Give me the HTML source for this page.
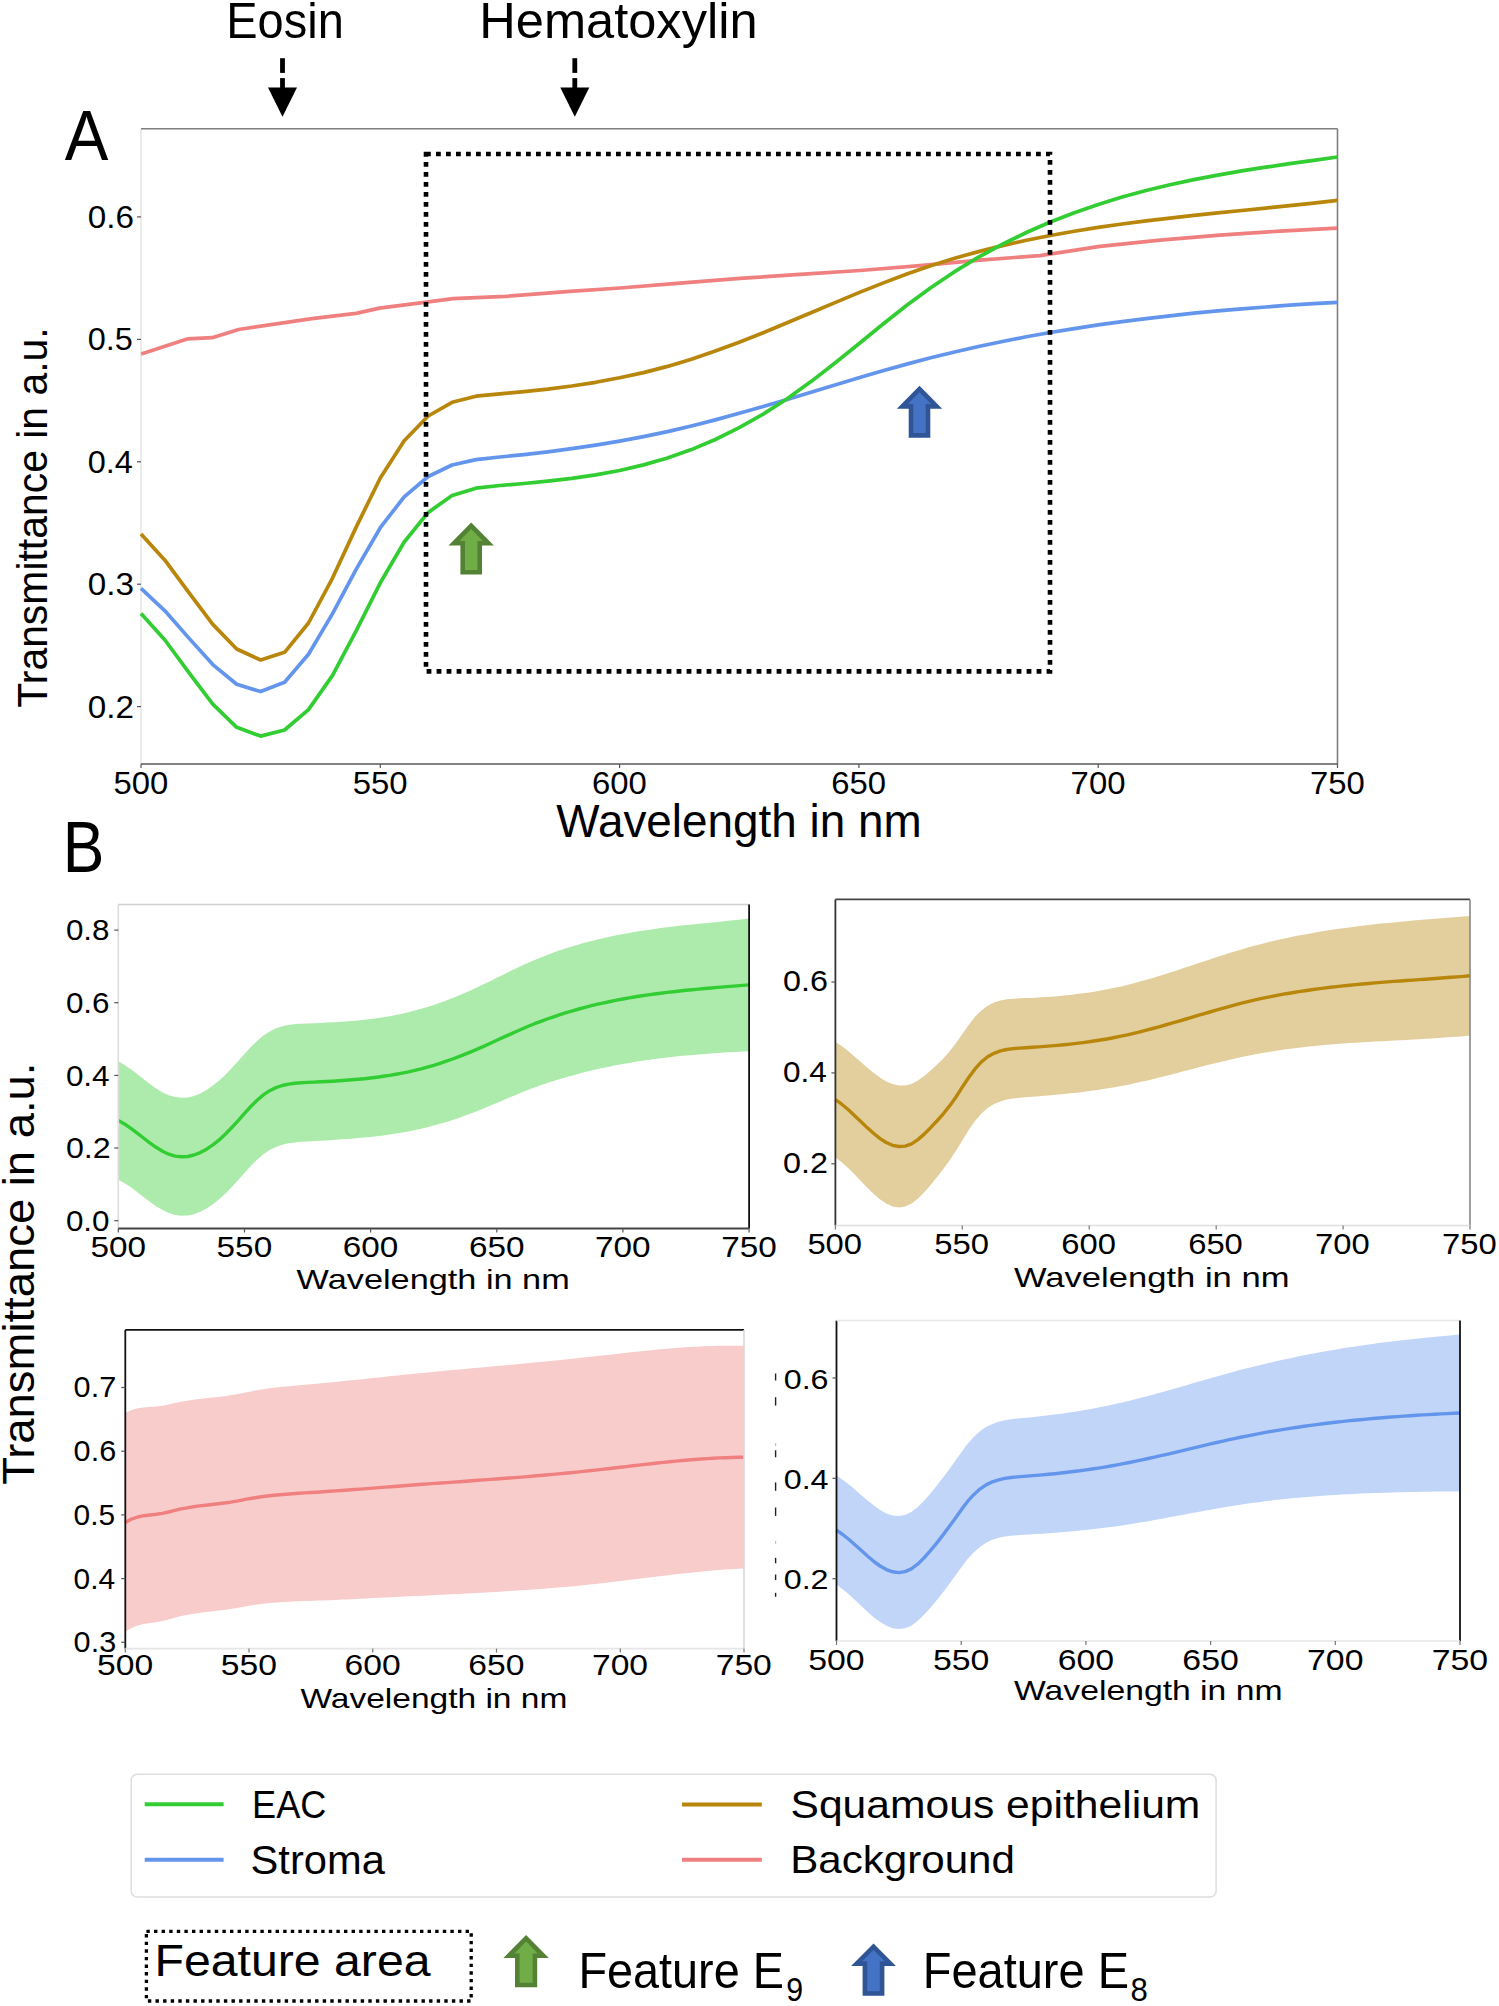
<!DOCTYPE html>
<html><head><meta charset="utf-8"><title>Transmittance spectra</title>
<style>html,body{margin:0;padding:0;background:#fff;} svg{display:block;}</style></head>
<body><svg width="1499" height="2006" viewBox="0 0 1499 2006" font-family='"Liberation Sans", sans-serif'>
<rect width="1499" height="2006" fill="#fff"/>
<text x="226.27" y="38.00" font-size="50.43" fill="#000" textLength="117.55" lengthAdjust="spacingAndGlyphs">Eosin</text>
<text x="479.29" y="38.00" font-size="49.28" fill="#000" textLength="278.25" lengthAdjust="spacingAndGlyphs">Hematoxylin</text>
<text x="64.70" y="160.30" font-size="71.01" fill="#000" textLength="43.63" lengthAdjust="spacingAndGlyphs">A</text>
<rect x="280.1" y="58.2" width="4.8" height="14.7" fill="#000"/>
<rect x="280.1" y="78.1" width="4.8" height="10" fill="#000"/>
<polygon points="268.0,87.6 297.0,87.6 282.5,116.8" fill="#000" />
<rect x="572.4" y="58.2" width="4.8" height="14.7" fill="#000"/>
<rect x="572.4" y="78.1" width="4.8" height="10" fill="#000"/>
<polygon points="560.3,87.6 589.3,87.6 574.8,116.8" fill="#000" />
<line x1="141.0" y1="128.7" x2="141.0" y2="764.0" stroke="#e6e6e6" stroke-width="1.6" />
<line x1="141.0" y1="128.7" x2="1337.5" y2="128.7" stroke="#7f7f7f" stroke-width="1.6" />
<line x1="1337.5" y1="128.7" x2="1337.5" y2="764.0" stroke="#7f7f7f" stroke-width="1.6" />
<line x1="141.0" y1="764.0" x2="1337.5" y2="764.0" stroke="#595959" stroke-width="1.6" />
<line x1="137.0" y1="216.9" x2="141.0" y2="216.9" stroke="#555" stroke-width="1.2" />
<text x="87.75" y="227.88" font-size="31.69" fill="#000" textLength="46.16" lengthAdjust="spacingAndGlyphs">0.6</text>
<line x1="137.0" y1="339.4" x2="141.0" y2="339.4" stroke="#555" stroke-width="1.2" />
<text x="87.78" y="350.38" font-size="31.69" fill="#000" textLength="45.09" lengthAdjust="spacingAndGlyphs">0.5</text>
<line x1="137.0" y1="461.8" x2="141.0" y2="461.8" stroke="#555" stroke-width="1.2" />
<text x="87.78" y="472.78" font-size="31.69" fill="#000" textLength="45.09" lengthAdjust="spacingAndGlyphs">0.4</text>
<line x1="137.0" y1="584.2" x2="141.0" y2="584.2" stroke="#555" stroke-width="1.2" />
<text x="87.75" y="595.18" font-size="31.69" fill="#000" textLength="46.16" lengthAdjust="spacingAndGlyphs">0.3</text>
<line x1="137.0" y1="706.6" x2="141.0" y2="706.6" stroke="#555" stroke-width="1.2" />
<text x="87.75" y="717.58" font-size="31.69" fill="#000" textLength="46.16" lengthAdjust="spacingAndGlyphs">0.2</text>
<line x1="141.0" y1="764.0" x2="141.0" y2="768.0" stroke="#555" stroke-width="1.2" />
<text x="113.44" y="793.69" font-size="30.99" fill="#000" textLength="54.81" lengthAdjust="spacingAndGlyphs">500</text>
<line x1="380.3" y1="764.0" x2="380.3" y2="768.0" stroke="#555" stroke-width="1.2" />
<text x="352.74" y="793.69" font-size="30.99" fill="#000" textLength="54.81" lengthAdjust="spacingAndGlyphs">550</text>
<line x1="619.6" y1="764.0" x2="619.6" y2="768.0" stroke="#555" stroke-width="1.2" />
<text x="592.04" y="793.69" font-size="30.99" fill="#000" textLength="54.81" lengthAdjust="spacingAndGlyphs">600</text>
<line x1="858.9" y1="764.0" x2="858.9" y2="768.0" stroke="#555" stroke-width="1.2" />
<text x="831.34" y="793.69" font-size="30.99" fill="#000" textLength="54.81" lengthAdjust="spacingAndGlyphs">650</text>
<line x1="1098.2" y1="764.0" x2="1098.2" y2="768.0" stroke="#555" stroke-width="1.2" />
<text x="1070.64" y="793.69" font-size="30.99" fill="#000" textLength="54.81" lengthAdjust="spacingAndGlyphs">700</text>
<line x1="1337.5" y1="764.0" x2="1337.5" y2="768.0" stroke="#555" stroke-width="1.2" />
<text x="1309.94" y="793.69" font-size="30.99" fill="#000" textLength="54.81" lengthAdjust="spacingAndGlyphs">750</text>
<text x="556.30" y="836.80" font-size="46.09" fill="#000" textLength="365.40" lengthAdjust="spacingAndGlyphs">Wavelength in nm</text>
<text transform="translate(47.40,707.70) rotate(-90)" x="-0.00" y="0" font-size="41.59" fill="#000" textLength="380.36" lengthAdjust="spacingAndGlyphs">Transmittance in a.u.</text>
<polyline points="141.0,588.3 164.9,610.8 188.9,638.1 212.8,664.6 236.7,684.3 260.6,691.6 284.6,682.3 308.5,654.3 332.4,613.9 356.4,568.9 380.3,527.7 404.2,496.8 428.2,476.5 452.1,465.0 476.0,459.6 499.9,457.0 523.9,454.6 547.8,451.8 571.7,448.7 595.7,445.1 619.6,441.1 643.5,436.6 667.5,431.6 691.4,426.0 715.3,419.9 739.2,413.3 763.2,406.5 787.1,399.4 811.0,392.2 835.0,384.9 858.9,377.8 882.8,370.8 906.8,364.1 930.7,357.8 954.6,352.0 978.5,346.5 1002.5,341.5 1026.4,336.8 1050.3,332.5 1074.3,328.6 1098.2,324.9 1122.1,321.6 1146.1,318.6 1170.0,315.8 1193.9,313.2 1217.8,310.9 1241.8,308.9 1265.7,307.0 1289.6,305.2 1313.6,303.7 1337.5,302.3" fill="none" stroke="#6495ED" stroke-width="3.7" stroke-linejoin="round" stroke-linecap="butt" />
<polyline points="141.2,353.9 187.2,338.9 212.2,337.7 238.6,329.5 312.0,318.7 356.0,313.4 379.5,308.1 426.4,302.2 452.9,298.7 505.7,296.4 570.0,291.4 620.0,288.0 680.0,283.2 740.0,278.4 800.0,274.4 860.0,270.5 920.0,265.7 980.0,260.1 1040.0,255.6 1100.0,246.3 1160.0,240.1 1220.0,235.1 1280.0,231.1 1337.0,228.1" fill="none" stroke="#F08080" stroke-width="3.7" stroke-linejoin="round" stroke-linecap="butt" />
<polyline points="141.0,533.9 164.9,560.2 188.9,592.6 212.8,624.4 236.7,649.0 260.6,660.0 284.6,652.3 308.5,623.0 332.4,578.3 356.4,526.6 380.3,478.0 404.2,440.8 428.2,416.0 452.1,402.3 476.0,396.2 499.9,393.8 523.9,391.6 547.8,389.1 571.7,386.0 595.7,382.3 619.6,377.8 643.5,372.6 667.5,366.4 691.4,359.3 715.3,351.1 739.2,342.2 763.2,332.7 787.1,322.8 811.0,312.7 835.0,302.6 858.9,292.6 882.8,283.1 906.8,274.0 930.7,265.8 954.6,258.3 978.5,251.6 1002.5,245.6 1026.4,240.3 1050.3,235.5 1074.3,231.2 1098.2,227.4 1122.1,224.0 1146.1,220.9 1170.0,218.1 1193.9,215.4 1217.8,212.9 1241.8,210.5 1265.7,208.1 1289.6,205.6 1313.6,203.1 1337.5,200.3" fill="none" stroke="#B8860B" stroke-width="3.7" stroke-linejoin="round" stroke-linecap="butt" />
<polyline points="141.0,613.6 164.9,640.0 188.9,672.6 212.8,704.2 236.7,727.3 260.6,736.1 284.6,730.0 308.5,709.6 332.4,675.6 356.4,630.4 380.3,582.8 404.2,542.0 428.2,512.4 452.1,495.6 476.0,488.2 499.9,485.5 523.9,483.5 547.8,481.2 571.7,478.4 595.7,474.9 619.6,470.5 643.5,464.9 667.5,458.0 691.4,449.6 715.3,439.5 739.2,427.6 763.2,414.1 787.1,398.7 811.0,381.6 835.0,363.0 858.9,343.7 882.8,324.2 906.8,305.3 930.7,287.7 954.6,271.7 978.5,257.2 1002.5,244.2 1026.4,232.5 1050.3,222.0 1074.3,212.7 1098.2,204.4 1122.1,197.0 1146.1,190.5 1170.0,184.7 1193.9,179.6 1217.8,175.1 1241.8,170.9 1265.7,167.2 1289.6,163.7 1313.6,160.3 1337.5,157.0" fill="none" stroke="#32CD32" stroke-width="3.7" stroke-linejoin="round" stroke-linecap="butt" />
<rect x="426" y="154" width="624" height="517.4" fill="none" stroke="#000" stroke-width="4.6" stroke-dasharray="4.8 5.2"/>
<polygon points="471.2,522.5 493.9,545.5 482.0,545.5 482.0,574.5 460.4,574.5 460.4,545.5 448.5,545.5" fill="#548235" />
<polygon points="471.2,529.0 482.8,540.9 477.4,540.9 477.4,569.9 465.0,569.9 465.0,540.9 459.6,540.9" fill="#70AD47" />
<polygon points="919.5,385.7 942.2,408.7 930.3,408.7 930.3,437.7 908.7,437.7 908.7,408.7 896.8,408.7" fill="#2F5597" />
<polygon points="919.5,392.2 931.1,404.1 925.7,404.1 925.7,433.1 913.3,433.1 913.3,404.1 907.9,404.1" fill="#4472C4" />
<text x="62.64" y="872.40" font-size="71.59" fill="#000" textLength="41.63" lengthAdjust="spacingAndGlyphs">B</text>
<text transform="translate(34.40,1484.80) rotate(-90)" x="-0.00" y="0" font-size="44.93" fill="#000" textLength="422.24" lengthAdjust="spacingAndGlyphs">Transmittance in a.u.</text>
<polygon points="118.3,1061.2 124.6,1064.9 130.9,1069.3 137.2,1074.1 143.5,1079.1 149.8,1084.0 156.1,1088.5 162.5,1092.4 168.8,1095.3 175.1,1097.1 181.4,1097.8 187.7,1097.4 194.0,1095.9 200.3,1093.4 206.6,1089.9 212.9,1085.6 219.2,1080.5 225.5,1074.7 231.8,1068.1 238.2,1061.1 244.5,1054.0 250.8,1047.1 257.1,1040.9 263.4,1035.6 269.7,1031.4 276.0,1028.3 282.3,1026.2 288.6,1024.9 294.9,1024.1 301.2,1023.7 307.5,1023.4 313.8,1023.2 320.2,1022.9 326.5,1022.6 332.8,1022.3 339.1,1021.9 345.4,1021.5 351.7,1021.0 358.0,1020.5 364.3,1019.8 370.6,1019.1 376.9,1018.2 383.2,1017.3 389.5,1016.2 395.9,1015.0 402.2,1013.7 408.5,1012.2 414.8,1010.6 421.1,1008.8 427.4,1007.0 433.7,1005.0 440.0,1002.8 446.3,1000.5 452.6,998.1 458.9,995.5 465.2,992.8 471.5,990.0 477.9,987.1 484.2,984.0 490.5,980.9 496.8,977.8 503.1,974.7 509.4,971.6 515.7,968.6 522.0,965.6 528.3,962.7 534.6,960.0 540.9,957.4 547.2,954.9 553.6,952.6 559.9,950.3 566.2,948.2 572.5,946.2 578.8,944.4 585.1,942.6 591.4,940.9 597.7,939.4 604.0,937.9 610.3,936.5 616.6,935.3 622.9,934.0 629.2,932.9 635.6,931.8 641.9,930.8 648.2,929.9 654.5,929.0 660.8,928.1 667.1,927.3 673.4,926.6 679.7,925.8 686.0,925.1 692.3,924.5 698.6,923.8 704.9,923.2 711.3,922.5 717.6,921.9 723.9,921.2 730.2,920.6 736.5,919.9 742.8,919.3 749.1,918.6 749.1,1051.3 742.8,1051.6 736.5,1051.9 730.2,1052.2 723.9,1052.6 717.6,1053.0 711.3,1053.4 704.9,1053.9 698.6,1054.4 692.3,1054.9 686.0,1055.5 679.7,1056.1 673.4,1056.7 667.1,1057.5 660.8,1058.2 654.5,1059.0 648.2,1059.9 641.9,1060.8 635.6,1061.8 629.2,1062.9 622.9,1064.0 616.6,1065.1 610.3,1066.4 604.0,1067.7 597.7,1069.1 591.4,1070.5 585.1,1072.1 578.8,1073.7 572.5,1075.4 566.2,1077.2 559.9,1079.1 553.6,1081.0 547.2,1083.1 540.9,1085.2 534.6,1087.5 528.3,1089.8 522.0,1092.3 515.7,1094.9 509.4,1097.5 503.1,1100.2 496.8,1102.9 490.5,1105.5 484.2,1108.2 477.9,1110.7 471.5,1113.2 465.2,1115.6 458.9,1117.9 452.6,1120.0 446.3,1122.0 440.0,1123.8 433.7,1125.6 427.4,1127.2 421.1,1128.7 414.8,1130.1 408.5,1131.4 402.2,1132.5 395.9,1133.6 389.5,1134.5 383.2,1135.4 376.9,1136.2 370.6,1136.9 364.3,1137.5 358.0,1138.1 351.7,1138.7 345.4,1139.1 339.1,1139.6 332.8,1140.0 326.5,1140.4 320.2,1140.8 313.8,1141.1 307.5,1141.5 301.2,1141.8 294.9,1142.4 288.6,1143.3 282.3,1144.7 276.0,1146.9 269.7,1150.0 263.4,1154.3 257.1,1159.7 250.8,1166.0 244.5,1172.9 238.2,1180.0 231.8,1186.9 225.5,1193.4 219.2,1199.2 212.9,1204.2 206.6,1208.4 200.3,1211.8 194.0,1214.2 187.7,1215.5 181.4,1215.8 175.1,1215.0 168.8,1213.1 162.5,1210.1 156.1,1206.2 149.8,1201.7 143.5,1196.9 137.2,1192.0 130.9,1187.3 124.6,1183.2 118.3,1179.8" fill="#ADEBAD" />
<polyline points="118.3,1120.5 124.6,1124.0 130.9,1128.3 137.2,1133.1 143.5,1138.0 149.8,1142.8 156.1,1147.3 162.5,1151.2 168.8,1154.2 175.1,1156.1 181.4,1156.8 187.7,1156.5 194.0,1155.0 200.3,1152.6 206.6,1149.2 212.9,1144.9 219.2,1139.9 225.5,1134.0 231.8,1127.5 238.2,1120.6 244.5,1113.4 250.8,1106.5 257.1,1100.3 263.4,1094.9 269.7,1090.7 276.0,1087.6 282.3,1085.5 288.6,1084.1 294.9,1083.2 301.2,1082.8 307.5,1082.4 313.8,1082.1 320.2,1081.8 326.5,1081.5 332.8,1081.2 339.1,1080.8 345.4,1080.3 351.7,1079.8 358.0,1079.3 364.3,1078.7 370.6,1078.0 376.9,1077.2 383.2,1076.3 389.5,1075.4 395.9,1074.3 402.2,1073.1 408.5,1071.8 414.8,1070.3 421.1,1068.8 427.4,1067.1 433.7,1065.3 440.0,1063.3 446.3,1061.2 452.6,1059.0 458.9,1056.7 465.2,1054.2 471.5,1051.6 477.9,1048.9 484.2,1046.1 490.5,1043.2 496.8,1040.3 503.1,1037.4 509.4,1034.6 515.7,1031.7 522.0,1029.0 528.3,1026.3 534.6,1023.7 540.9,1021.3 547.2,1019.0 553.6,1016.8 559.9,1014.7 566.2,1012.7 572.5,1010.8 578.8,1009.0 585.1,1007.3 591.4,1005.7 597.7,1004.2 604.0,1002.8 610.3,1001.5 616.6,1000.2 622.9,999.0 629.2,997.9 635.6,996.8 641.9,995.8 648.2,994.9 654.5,994.0 660.8,993.2 667.1,992.4 673.4,991.7 679.7,991.0 686.0,990.3 692.3,989.7 698.6,989.1 704.9,988.5 711.3,988.0 717.6,987.4 723.9,986.9 730.2,986.4 736.5,985.9 742.8,985.4 749.1,984.9" fill="none" stroke="#32CD32" stroke-width="3.4" stroke-linejoin="round" stroke-linecap="butt" />
<line x1="118.3" y1="904.5" x2="118.3" y2="1228.5" stroke="#dcdcdc" stroke-width="1.6" />
<line x1="118.3" y1="904.5" x2="749.1" y2="904.5" stroke="#d0d0d0" stroke-width="1.6" />
<line x1="749.1" y1="904.5" x2="749.1" y2="1228.5" stroke="#111" stroke-width="1.8" />
<line x1="118.3" y1="1228.5" x2="749.1" y2="1228.5" stroke="#444" stroke-width="1.8" />
<line x1="114.3" y1="1220.7" x2="118.3" y2="1220.7" stroke="#555" stroke-width="1.2" />
<text x="65.90" y="1231.01" font-size="28.87" fill="#000" textLength="43.64" lengthAdjust="spacingAndGlyphs">0.0</text>
<line x1="114.3" y1="1148.0" x2="118.3" y2="1148.0" stroke="#555" stroke-width="1.2" />
<text x="65.90" y="1158.35" font-size="28.87" fill="#000" textLength="44.75" lengthAdjust="spacingAndGlyphs">0.2</text>
<line x1="114.3" y1="1075.4" x2="118.3" y2="1075.4" stroke="#555" stroke-width="1.2" />
<text x="65.90" y="1085.69" font-size="28.87" fill="#000" textLength="43.64" lengthAdjust="spacingAndGlyphs">0.4</text>
<line x1="114.3" y1="1002.7" x2="118.3" y2="1002.7" stroke="#555" stroke-width="1.2" />
<text x="65.90" y="1013.03" font-size="28.87" fill="#000" textLength="43.64" lengthAdjust="spacingAndGlyphs">0.6</text>
<line x1="114.3" y1="930.1" x2="118.3" y2="930.1" stroke="#555" stroke-width="1.2" />
<text x="65.90" y="940.37" font-size="28.87" fill="#000" textLength="43.64" lengthAdjust="spacingAndGlyphs">0.8</text>
<line x1="118.3" y1="1228.5" x2="118.3" y2="1232.5" stroke="#555" stroke-width="1.2" />
<text x="90.46" y="1257.11" font-size="29.30" fill="#000" textLength="55.55" lengthAdjust="spacingAndGlyphs">500</text>
<line x1="244.5" y1="1228.5" x2="244.5" y2="1232.5" stroke="#555" stroke-width="1.2" />
<text x="216.62" y="1257.11" font-size="29.30" fill="#000" textLength="55.55" lengthAdjust="spacingAndGlyphs">550</text>
<line x1="370.6" y1="1228.5" x2="370.6" y2="1232.5" stroke="#555" stroke-width="1.2" />
<text x="342.78" y="1257.11" font-size="29.30" fill="#000" textLength="55.55" lengthAdjust="spacingAndGlyphs">600</text>
<line x1="496.8" y1="1228.5" x2="496.8" y2="1232.5" stroke="#555" stroke-width="1.2" />
<text x="468.94" y="1257.11" font-size="29.30" fill="#000" textLength="55.55" lengthAdjust="spacingAndGlyphs">650</text>
<line x1="622.9" y1="1228.5" x2="622.9" y2="1232.5" stroke="#555" stroke-width="1.2" />
<text x="595.10" y="1257.11" font-size="29.30" fill="#000" textLength="55.55" lengthAdjust="spacingAndGlyphs">700</text>
<line x1="749.1" y1="1228.5" x2="749.1" y2="1232.5" stroke="#555" stroke-width="1.2" />
<text x="721.26" y="1257.11" font-size="29.30" fill="#000" textLength="55.55" lengthAdjust="spacingAndGlyphs">750</text>
<text x="296.60" y="1289.30" font-size="27.97" fill="#000" textLength="273.12" lengthAdjust="spacingAndGlyphs">Wavelength in nm</text>
<polygon points="835.4,1042.0 841.7,1046.1 848.1,1051.0 854.4,1056.4 860.8,1062.0 867.1,1067.6 873.5,1072.8 879.8,1077.5 886.2,1081.4 892.5,1084.1 898.9,1085.6 905.2,1085.6 911.6,1084.0 917.9,1080.6 924.2,1076.0 930.6,1070.6 936.9,1064.7 943.3,1058.4 949.6,1051.3 956.0,1043.1 962.3,1034.1 968.7,1024.9 975.0,1016.8 981.4,1010.4 987.7,1005.7 994.0,1002.5 1000.4,1000.5 1006.7,999.3 1013.1,998.7 1019.4,998.3 1025.8,998.1 1032.1,997.9 1038.5,997.5 1044.8,997.1 1051.2,996.7 1057.5,996.2 1063.9,995.6 1070.2,994.9 1076.5,994.1 1082.9,993.3 1089.2,992.4 1095.6,991.4 1101.9,990.3 1108.3,989.1 1114.6,987.8 1121.0,986.4 1127.3,984.9 1133.7,983.3 1140.0,981.5 1146.4,979.8 1152.7,977.9 1159.0,976.0 1165.4,974.0 1171.7,972.0 1178.1,969.9 1184.4,967.8 1190.8,965.7 1197.1,963.6 1203.5,961.5 1209.8,959.4 1216.2,957.3 1222.5,955.3 1228.9,953.3 1235.2,951.3 1241.5,949.4 1247.9,947.6 1254.2,945.8 1260.6,944.2 1266.9,942.6 1273.3,941.0 1279.6,939.6 1286.0,938.2 1292.3,936.8 1298.7,935.6 1305.0,934.4 1311.3,933.2 1317.7,932.1 1324.0,931.1 1330.4,930.1 1336.7,929.1 1343.1,928.2 1349.4,927.4 1355.8,926.6 1362.1,925.8 1368.5,925.0 1374.8,924.3 1381.2,923.6 1387.5,923.0 1393.8,922.4 1400.2,921.8 1406.5,921.2 1412.9,920.6 1419.2,920.1 1425.6,919.6 1431.9,919.0 1438.3,918.5 1444.6,918.0 1451.0,917.5 1457.3,917.0 1463.7,916.6 1470.0,916.1 1470.0,1035.6 1463.7,1036.2 1457.3,1036.7 1451.0,1037.1 1444.6,1037.6 1438.3,1038.0 1431.9,1038.4 1425.6,1038.8 1419.2,1039.2 1412.9,1039.5 1406.5,1039.9 1400.2,1040.2 1393.8,1040.5 1387.5,1040.9 1381.2,1041.2 1374.8,1041.6 1368.5,1041.9 1362.1,1042.3 1355.8,1042.7 1349.4,1043.1 1343.1,1043.6 1336.7,1044.0 1330.4,1044.6 1324.0,1045.1 1317.7,1045.7 1311.3,1046.3 1305.0,1047.0 1298.7,1047.7 1292.3,1048.5 1286.0,1049.3 1279.6,1050.2 1273.3,1051.2 1266.9,1052.2 1260.6,1053.3 1254.2,1054.4 1247.9,1055.7 1241.5,1057.0 1235.2,1058.4 1228.9,1059.9 1222.5,1061.4 1216.2,1062.9 1209.8,1064.5 1203.5,1066.1 1197.1,1067.8 1190.8,1069.4 1184.4,1071.1 1178.1,1072.8 1171.7,1074.4 1165.4,1076.0 1159.0,1077.6 1152.7,1079.2 1146.4,1080.7 1140.0,1082.1 1133.7,1083.5 1127.3,1084.9 1121.0,1086.1 1114.6,1087.3 1108.3,1088.3 1101.9,1089.3 1095.6,1090.3 1089.2,1091.1 1082.9,1091.9 1076.5,1092.7 1070.2,1093.3 1063.9,1094.0 1057.5,1094.6 1051.2,1095.2 1044.8,1095.7 1038.5,1096.2 1032.1,1096.7 1025.8,1097.2 1019.4,1097.8 1013.1,1098.5 1006.7,1099.6 1000.4,1101.4 994.0,1104.0 987.7,1107.9 981.4,1113.5 975.0,1120.9 968.7,1130.1 962.3,1140.4 956.0,1150.8 949.6,1160.4 943.3,1169.1 936.9,1177.2 930.6,1184.9 924.2,1192.2 917.9,1198.7 911.6,1203.6 905.2,1206.6 898.9,1207.5 892.5,1206.4 886.2,1203.5 879.8,1199.2 873.5,1193.8 867.1,1187.6 860.8,1181.0 854.4,1174.3 848.1,1168.0 841.7,1162.2 835.4,1157.4" fill="#E3CF9D" />
<polyline points="835.4,1099.7 841.7,1104.2 848.1,1109.5 854.4,1115.4 860.8,1121.5 867.1,1127.6 873.5,1133.3 879.8,1138.4 886.2,1142.5 892.5,1145.3 898.9,1146.5 905.2,1146.1 911.6,1143.8 917.9,1139.6 924.2,1134.1 930.6,1127.7 936.9,1121.0 943.3,1113.8 949.6,1105.9 956.0,1097.0 962.3,1087.2 968.7,1077.5 975.0,1068.9 981.4,1061.9 987.7,1056.8 994.0,1053.3 1000.4,1050.9 1006.7,1049.5 1013.1,1048.6 1019.4,1048.1 1025.8,1047.7 1032.1,1047.3 1038.5,1046.9 1044.8,1046.4 1051.2,1045.9 1057.5,1045.4 1063.9,1044.8 1070.2,1044.1 1076.5,1043.4 1082.9,1042.6 1089.2,1041.8 1095.6,1040.8 1101.9,1039.8 1108.3,1038.7 1114.6,1037.5 1121.0,1036.2 1127.3,1034.9 1133.7,1033.4 1140.0,1031.8 1146.4,1030.2 1152.7,1028.5 1159.0,1026.8 1165.4,1025.0 1171.7,1023.2 1178.1,1021.3 1184.4,1019.5 1190.8,1017.6 1197.1,1015.7 1203.5,1013.8 1209.8,1012.0 1216.2,1010.1 1222.5,1008.3 1228.9,1006.6 1235.2,1004.9 1241.5,1003.2 1247.9,1001.6 1254.2,1000.1 1260.6,998.7 1266.9,997.4 1273.3,996.1 1279.6,994.9 1286.0,993.7 1292.3,992.7 1298.7,991.6 1305.0,990.7 1311.3,989.8 1317.7,988.9 1324.0,988.1 1330.4,987.3 1336.7,986.6 1343.1,985.9 1349.4,985.2 1355.8,984.6 1362.1,984.0 1368.5,983.5 1374.8,982.9 1381.2,982.4 1387.5,981.9 1393.8,981.4 1400.2,981.0 1406.5,980.5 1412.9,980.1 1419.2,979.6 1425.6,979.2 1431.9,978.7 1438.3,978.3 1444.6,977.8 1451.0,977.3 1457.3,976.9 1463.7,976.4 1470.0,975.8" fill="none" stroke="#B8860B" stroke-width="3.4" stroke-linejoin="round" stroke-linecap="butt" />
<line x1="835.4" y1="899.4" x2="835.4" y2="1225.5" stroke="#333" stroke-width="1.8" />
<line x1="835.4" y1="899.4" x2="1470.0" y2="899.4" stroke="#444" stroke-width="1.8" />
<line x1="1470.0" y1="899.4" x2="1470.0" y2="1225.5" stroke="#888" stroke-width="1.6" />
<line x1="835.4" y1="1225.5" x2="1470.0" y2="1225.5" stroke="#e0e0e0" stroke-width="1.6" />
<line x1="831.4" y1="1163.8" x2="835.4" y2="1163.8" stroke="#555" stroke-width="1.2" />
<text x="783.10" y="1173.11" font-size="29.30" fill="#000" textLength="44.91" lengthAdjust="spacingAndGlyphs">0.2</text>
<line x1="831.4" y1="1072.9" x2="835.4" y2="1072.9" stroke="#555" stroke-width="1.2" />
<text x="783.10" y="1082.21" font-size="29.30" fill="#000" textLength="43.81" lengthAdjust="spacingAndGlyphs">0.4</text>
<line x1="831.4" y1="982.0" x2="835.4" y2="982.0" stroke="#555" stroke-width="1.2" />
<text x="783.10" y="991.31" font-size="29.30" fill="#000" textLength="44.91" lengthAdjust="spacingAndGlyphs">0.6</text>
<line x1="835.4" y1="1225.5" x2="835.4" y2="1229.5" stroke="#777" stroke-width="1.2" />
<text x="807.40" y="1254.10" font-size="29.86" fill="#000" textLength="54.71" lengthAdjust="spacingAndGlyphs">500</text>
<line x1="962.3" y1="1225.5" x2="962.3" y2="1229.5" stroke="#777" stroke-width="1.2" />
<text x="934.32" y="1254.10" font-size="29.86" fill="#000" textLength="54.71" lengthAdjust="spacingAndGlyphs">550</text>
<line x1="1089.2" y1="1225.5" x2="1089.2" y2="1229.5" stroke="#777" stroke-width="1.2" />
<text x="1061.24" y="1254.10" font-size="29.86" fill="#000" textLength="54.71" lengthAdjust="spacingAndGlyphs">600</text>
<line x1="1216.2" y1="1225.5" x2="1216.2" y2="1229.5" stroke="#777" stroke-width="1.2" />
<text x="1188.16" y="1254.10" font-size="29.86" fill="#000" textLength="54.71" lengthAdjust="spacingAndGlyphs">650</text>
<line x1="1343.1" y1="1225.5" x2="1343.1" y2="1229.5" stroke="#777" stroke-width="1.2" />
<text x="1315.08" y="1254.10" font-size="29.86" fill="#000" textLength="54.71" lengthAdjust="spacingAndGlyphs">700</text>
<line x1="1470.0" y1="1225.5" x2="1470.0" y2="1229.5" stroke="#777" stroke-width="1.2" />
<text x="1442.00" y="1254.10" font-size="29.86" fill="#000" textLength="54.71" lengthAdjust="spacingAndGlyphs">750</text>
<text x="1014.00" y="1286.80" font-size="27.83" fill="#000" textLength="275.47" lengthAdjust="spacingAndGlyphs">Wavelength in nm</text>
<polygon points="125.3,1413.1 131.5,1410.1 137.7,1408.3 143.9,1407.4 150.0,1406.8 156.2,1406.4 162.4,1405.7 168.6,1404.5 174.8,1403.0 181.0,1401.7 187.2,1400.7 193.4,1399.8 199.5,1399.0 205.7,1398.3 211.9,1397.6 218.1,1396.9 224.3,1396.2 230.5,1395.3 236.7,1394.2 242.9,1393.0 249.0,1391.7 255.2,1390.5 261.4,1389.5 267.6,1388.6 273.8,1387.8 280.0,1387.1 286.2,1386.5 292.3,1385.9 298.5,1385.3 304.7,1384.8 310.9,1384.2 317.1,1383.7 323.3,1383.1 329.5,1382.5 335.7,1381.9 341.8,1381.3 348.0,1380.6 354.2,1380.0 360.4,1379.4 366.6,1378.7 372.8,1378.1 379.0,1377.4 385.2,1376.8 391.3,1376.1 397.5,1375.5 403.7,1374.8 409.9,1374.2 416.1,1373.6 422.3,1373.0 428.5,1372.4 434.7,1371.8 440.8,1371.2 447.0,1370.6 453.2,1370.1 459.4,1369.5 465.6,1368.9 471.8,1368.3 478.0,1367.8 484.1,1367.2 490.3,1366.6 496.5,1366.1 502.7,1365.5 508.9,1364.9 515.1,1364.4 521.3,1363.8 527.5,1363.2 533.6,1362.6 539.8,1362.0 546.0,1361.4 552.2,1360.8 558.4,1360.2 564.6,1359.6 570.8,1358.9 577.0,1358.3 583.1,1357.6 589.3,1357.0 595.5,1356.3 601.7,1355.6 607.9,1354.9 614.1,1354.2 620.3,1353.5 626.4,1352.8 632.6,1352.1 638.8,1351.5 645.0,1350.8 651.2,1350.2 657.4,1349.6 663.6,1349.0 669.8,1348.5 675.9,1348.0 682.1,1347.5 688.3,1347.1 694.5,1346.7 700.7,1346.4 706.9,1346.1 713.1,1345.9 719.3,1345.8 725.4,1345.7 731.6,1345.7 737.8,1345.8 744.0,1346.0 744.0,1568.6 737.8,1568.8 731.6,1569.2 725.4,1569.6 719.3,1570.1 713.1,1570.6 706.9,1571.1 700.7,1571.7 694.5,1572.3 688.3,1572.9 682.1,1573.6 675.9,1574.3 669.8,1575.0 663.6,1575.7 657.4,1576.5 651.2,1577.2 645.0,1578.0 638.8,1578.8 632.6,1579.5 626.4,1580.3 620.3,1581.1 614.1,1581.8 607.9,1582.5 601.7,1583.2 595.5,1583.9 589.3,1584.6 583.1,1585.2 577.0,1585.9 570.8,1586.4 564.6,1587.0 558.4,1587.5 552.2,1588.1 546.0,1588.6 539.8,1589.0 533.6,1589.5 527.5,1589.9 521.3,1590.3 515.1,1590.8 508.9,1591.1 502.7,1591.5 496.5,1591.9 490.3,1592.2 484.1,1592.6 478.0,1592.9 471.8,1593.2 465.6,1593.6 459.4,1593.9 453.2,1594.2 447.0,1594.5 440.8,1594.8 434.7,1595.1 428.5,1595.4 422.3,1595.7 416.1,1596.0 409.9,1596.3 403.7,1596.6 397.5,1596.9 391.3,1597.2 385.2,1597.5 379.0,1597.8 372.8,1598.1 366.6,1598.5 360.4,1598.8 354.2,1599.1 348.0,1599.4 341.8,1599.6 335.7,1599.9 329.5,1600.2 323.3,1600.4 317.1,1600.6 310.9,1600.9 304.7,1601.1 298.5,1601.3 292.3,1601.6 286.2,1601.9 280.0,1602.3 273.8,1602.7 267.6,1603.3 261.4,1604.0 255.2,1604.8 249.0,1605.8 242.9,1606.9 236.7,1608.0 230.5,1609.0 224.3,1609.9 218.1,1610.6 211.9,1611.4 205.7,1612.1 199.5,1612.9 193.4,1613.8 187.2,1614.9 181.0,1616.1 174.8,1617.7 168.6,1619.5 162.4,1621.0 156.2,1622.2 150.0,1623.1 143.9,1624.1 137.7,1625.6 131.5,1628.1 125.3,1631.8" fill="#F9CCCC" />
<polyline points="125.3,1522.5 131.5,1519.1 137.7,1517.0 143.9,1515.7 150.0,1515.0 156.2,1514.3 162.4,1513.4 168.6,1512.0 174.8,1510.4 181.0,1508.9 187.2,1507.8 193.4,1506.8 199.5,1505.9 205.7,1505.2 211.9,1504.5 218.1,1503.8 224.3,1503.0 230.5,1502.2 236.7,1501.1 242.9,1499.9 249.0,1498.7 255.2,1497.7 261.4,1496.7 267.6,1496.0 273.8,1495.3 280.0,1494.7 286.2,1494.2 292.3,1493.7 298.5,1493.3 304.7,1492.9 310.9,1492.5 317.1,1492.2 323.3,1491.8 329.5,1491.3 335.7,1490.9 341.8,1490.5 348.0,1490.0 354.2,1489.5 360.4,1489.1 366.6,1488.6 372.8,1488.1 379.0,1487.6 385.2,1487.1 391.3,1486.7 397.5,1486.2 403.7,1485.7 409.9,1485.2 416.1,1484.8 422.3,1484.3 428.5,1483.9 434.7,1483.4 440.8,1483.0 447.0,1482.6 453.2,1482.1 459.4,1481.7 465.6,1481.2 471.8,1480.8 478.0,1480.3 484.1,1479.9 490.3,1479.4 496.5,1479.0 502.7,1478.5 508.9,1478.0 515.1,1477.6 521.3,1477.1 527.5,1476.6 533.6,1476.0 539.8,1475.5 546.0,1475.0 552.2,1474.4 558.4,1473.9 564.6,1473.3 570.8,1472.7 577.0,1472.1 583.1,1471.4 589.3,1470.8 595.5,1470.1 601.7,1469.4 607.9,1468.7 614.1,1468.0 620.3,1467.3 626.4,1466.6 632.6,1465.8 638.8,1465.1 645.0,1464.4 651.2,1463.7 657.4,1463.0 663.6,1462.4 669.8,1461.7 675.9,1461.1 682.1,1460.5 688.3,1460.0 694.5,1459.5 700.7,1459.0 706.9,1458.6 713.1,1458.2 719.3,1457.9 725.4,1457.7 731.6,1457.5 737.8,1457.3 744.0,1457.3" fill="none" stroke="#F08080" stroke-width="3.4" stroke-linejoin="round" stroke-linecap="butt" />
<line x1="125.3" y1="1329.9" x2="125.3" y2="1648.6" stroke="#111" stroke-width="1.8" />
<line x1="125.3" y1="1329.9" x2="744.0" y2="1329.9" stroke="#111" stroke-width="1.8" />
<line x1="744.0" y1="1329.9" x2="744.0" y2="1648.6" stroke="#d8d8d8" stroke-width="1.6" />
<line x1="125.3" y1="1648.6" x2="744.0" y2="1648.6" stroke="#e6e6e6" stroke-width="1.6" />
<line x1="121.3" y1="1642.3" x2="125.3" y2="1642.3" stroke="#555" stroke-width="1.2" />
<text x="73.60" y="1652.21" font-size="28.73" fill="#000" textLength="42.60" lengthAdjust="spacingAndGlyphs">0.3</text>
<line x1="121.3" y1="1578.6" x2="125.3" y2="1578.6" stroke="#555" stroke-width="1.2" />
<text x="73.60" y="1588.51" font-size="28.73" fill="#000" textLength="41.54" lengthAdjust="spacingAndGlyphs">0.4</text>
<line x1="121.3" y1="1514.9" x2="125.3" y2="1514.9" stroke="#555" stroke-width="1.2" />
<text x="73.60" y="1524.81" font-size="28.73" fill="#000" textLength="41.54" lengthAdjust="spacingAndGlyphs">0.5</text>
<line x1="121.3" y1="1451.2" x2="125.3" y2="1451.2" stroke="#555" stroke-width="1.2" />
<text x="73.60" y="1461.11" font-size="28.73" fill="#000" textLength="42.60" lengthAdjust="spacingAndGlyphs">0.6</text>
<line x1="121.3" y1="1387.5" x2="125.3" y2="1387.5" stroke="#555" stroke-width="1.2" />
<text x="73.60" y="1397.41" font-size="28.73" fill="#000" textLength="42.60" lengthAdjust="spacingAndGlyphs">0.7</text>
<line x1="125.3" y1="1648.6" x2="125.3" y2="1652.6" stroke="#777" stroke-width="1.2" />
<text x="97.02" y="1674.90" font-size="29.72" fill="#000" textLength="56.10" lengthAdjust="spacingAndGlyphs">500</text>
<line x1="249.0" y1="1648.6" x2="249.0" y2="1652.6" stroke="#777" stroke-width="1.2" />
<text x="220.76" y="1674.90" font-size="29.72" fill="#000" textLength="56.10" lengthAdjust="spacingAndGlyphs">550</text>
<line x1="372.8" y1="1648.6" x2="372.8" y2="1652.6" stroke="#777" stroke-width="1.2" />
<text x="344.50" y="1674.90" font-size="29.72" fill="#000" textLength="56.10" lengthAdjust="spacingAndGlyphs">600</text>
<line x1="496.5" y1="1648.6" x2="496.5" y2="1652.6" stroke="#777" stroke-width="1.2" />
<text x="468.24" y="1674.90" font-size="29.72" fill="#000" textLength="56.10" lengthAdjust="spacingAndGlyphs">650</text>
<line x1="620.3" y1="1648.6" x2="620.3" y2="1652.6" stroke="#777" stroke-width="1.2" />
<text x="591.98" y="1674.90" font-size="29.72" fill="#000" textLength="56.10" lengthAdjust="spacingAndGlyphs">700</text>
<line x1="744.0" y1="1648.6" x2="744.0" y2="1652.6" stroke="#777" stroke-width="1.2" />
<text x="715.72" y="1674.90" font-size="29.72" fill="#000" textLength="56.10" lengthAdjust="spacingAndGlyphs">750</text>
<text x="300.40" y="1708.40" font-size="27.83" fill="#000" textLength="266.95" lengthAdjust="spacingAndGlyphs">Wavelength in nm</text>
<polygon points="836.5,1475.8 842.7,1479.8 849.0,1484.5 855.2,1489.7 861.4,1495.2 867.7,1500.6 873.9,1505.6 880.1,1510.0 886.4,1513.4 892.6,1515.4 898.9,1516.1 905.1,1515.0 911.3,1512.1 917.6,1507.3 923.8,1501.1 930.0,1494.0 936.3,1486.3 942.5,1478.3 948.7,1470.0 955.0,1461.2 961.2,1452.4 967.4,1444.1 973.7,1437.0 979.9,1431.3 986.1,1427.0 992.4,1423.9 998.6,1421.7 1004.8,1420.3 1011.1,1419.3 1017.3,1418.6 1023.5,1418.0 1029.8,1417.4 1036.0,1416.7 1042.3,1416.1 1048.5,1415.3 1054.7,1414.5 1061.0,1413.7 1067.2,1412.8 1073.4,1411.9 1079.7,1410.9 1085.9,1409.8 1092.1,1408.7 1098.4,1407.5 1104.6,1406.3 1110.8,1405.0 1117.1,1403.6 1123.3,1402.2 1129.5,1400.7 1135.8,1399.1 1142.0,1397.5 1148.2,1395.9 1154.5,1394.2 1160.7,1392.5 1167.0,1390.7 1173.2,1389.0 1179.4,1387.2 1185.7,1385.4 1191.9,1383.6 1198.1,1381.8 1204.4,1380.0 1210.6,1378.2 1216.8,1376.4 1223.1,1374.7 1229.3,1372.9 1235.5,1371.2 1241.8,1369.6 1248.0,1368.0 1254.2,1366.4 1260.5,1364.9 1266.7,1363.4 1273.0,1362.0 1279.2,1360.6 1285.4,1359.2 1291.7,1357.9 1297.9,1356.6 1304.1,1355.3 1310.4,1354.1 1316.6,1353.0 1322.8,1351.8 1329.1,1350.7 1335.3,1349.7 1341.5,1348.6 1347.8,1347.6 1354.0,1346.7 1360.2,1345.7 1366.5,1344.8 1372.7,1344.0 1378.9,1343.1 1385.2,1342.3 1391.4,1341.5 1397.7,1340.8 1403.9,1340.1 1410.1,1339.4 1416.4,1338.7 1422.6,1338.0 1428.8,1337.4 1435.1,1336.8 1441.3,1336.2 1447.5,1335.7 1453.8,1335.1 1460.0,1334.6 1460.0,1491.3 1453.8,1491.4 1447.5,1491.5 1441.3,1491.5 1435.1,1491.6 1428.8,1491.7 1422.6,1491.8 1416.4,1491.9 1410.1,1492.0 1403.9,1492.2 1397.7,1492.3 1391.4,1492.5 1385.2,1492.7 1378.9,1492.9 1372.7,1493.1 1366.5,1493.3 1360.2,1493.6 1354.0,1493.9 1347.8,1494.2 1341.5,1494.5 1335.3,1494.9 1329.1,1495.3 1322.8,1495.7 1316.6,1496.2 1310.4,1496.7 1304.1,1497.2 1297.9,1497.7 1291.7,1498.3 1285.4,1499.0 1279.2,1499.6 1273.0,1500.3 1266.7,1501.1 1260.5,1501.9 1254.2,1502.7 1248.0,1503.6 1241.8,1504.5 1235.5,1505.5 1229.3,1506.5 1223.1,1507.5 1216.8,1508.6 1210.6,1509.7 1204.4,1510.8 1198.1,1512.0 1191.9,1513.1 1185.7,1514.3 1179.4,1515.5 1173.2,1516.6 1167.0,1517.8 1160.7,1518.9 1154.5,1520.1 1148.2,1521.2 1142.0,1522.2 1135.8,1523.3 1129.5,1524.3 1123.3,1525.2 1117.1,1526.2 1110.8,1527.0 1104.6,1527.8 1098.4,1528.6 1092.1,1529.3 1085.9,1530.0 1079.7,1530.6 1073.4,1531.2 1067.2,1531.8 1061.0,1532.3 1054.7,1532.8 1048.5,1533.3 1042.3,1533.7 1036.0,1534.1 1029.8,1534.5 1023.5,1534.8 1017.3,1535.2 1011.1,1535.7 1004.8,1536.5 998.6,1537.8 992.4,1539.8 986.1,1542.7 979.9,1546.9 973.7,1552.4 967.4,1559.3 961.2,1567.5 955.0,1576.1 948.7,1584.7 942.5,1592.9 936.3,1600.8 930.0,1608.2 923.8,1615.1 917.6,1621.1 911.3,1625.7 905.1,1628.3 898.9,1629.1 892.6,1628.2 886.4,1625.8 880.1,1622.1 873.9,1617.4 867.7,1611.9 861.4,1606.1 855.2,1600.2 849.0,1594.4 842.7,1589.2 836.5,1584.6" fill="#C1D5F8" />
<polyline points="836.5,1530.2 842.7,1534.5 849.0,1539.5 855.2,1545.0 861.4,1550.6 867.7,1556.3 873.9,1561.5 880.1,1566.0 886.4,1569.6 892.6,1571.8 898.9,1572.6 905.1,1571.6 911.3,1568.9 917.6,1564.2 923.8,1558.1 930.0,1551.1 936.3,1543.6 942.5,1535.6 948.7,1527.3 955.0,1518.7 961.2,1509.9 967.4,1501.7 973.7,1494.7 979.9,1489.1 986.1,1484.9 992.4,1481.8 998.6,1479.8 1004.8,1478.4 1011.1,1477.5 1017.3,1476.9 1023.5,1476.4 1029.8,1475.9 1036.0,1475.4 1042.3,1474.9 1048.5,1474.3 1054.7,1473.7 1061.0,1473.0 1067.2,1472.3 1073.4,1471.5 1079.7,1470.8 1085.9,1469.9 1092.1,1469.0 1098.4,1468.1 1104.6,1467.1 1110.8,1466.0 1117.1,1464.9 1123.3,1463.7 1129.5,1462.5 1135.8,1461.2 1142.0,1459.9 1148.2,1458.5 1154.5,1457.1 1160.7,1455.7 1167.0,1454.3 1173.2,1452.8 1179.4,1451.3 1185.7,1449.8 1191.9,1448.4 1198.1,1446.9 1204.4,1445.4 1210.6,1443.9 1216.8,1442.5 1223.1,1441.1 1229.3,1439.7 1235.5,1438.4 1241.8,1437.0 1248.0,1435.8 1254.2,1434.6 1260.5,1433.4 1266.7,1432.2 1273.0,1431.1 1279.2,1430.1 1285.4,1429.1 1291.7,1428.1 1297.9,1427.2 1304.1,1426.3 1310.4,1425.4 1316.6,1424.6 1322.8,1423.8 1329.1,1423.0 1335.3,1422.3 1341.5,1421.6 1347.8,1420.9 1354.0,1420.3 1360.2,1419.7 1366.5,1419.1 1372.7,1418.5 1378.9,1418.0 1385.2,1417.5 1391.4,1417.0 1397.7,1416.6 1403.9,1416.1 1410.1,1415.7 1416.4,1415.3 1422.6,1414.9 1428.8,1414.6 1435.1,1414.2 1441.3,1413.9 1447.5,1413.6 1453.8,1413.3 1460.0,1413.0" fill="none" stroke="#6495ED" stroke-width="3.4" stroke-linejoin="round" stroke-linecap="butt" />
<line x1="836.5" y1="1320.5" x2="836.5" y2="1641.0" stroke="#111" stroke-width="1.8" />
<line x1="836.5" y1="1320.5" x2="1460.0" y2="1320.5" stroke="#e6e6e6" stroke-width="1.6" />
<line x1="1460.0" y1="1320.5" x2="1460.0" y2="1641.0" stroke="#111" stroke-width="1.8" />
<line x1="836.5" y1="1641.0" x2="1460.0" y2="1641.0" stroke="#e6e6e6" stroke-width="1.6" />
<line x1="832.5" y1="1578.7" x2="836.5" y2="1578.7" stroke="#555" stroke-width="1.2" />
<text x="783.70" y="1589.22" font-size="28.45" fill="#000" textLength="44.92" lengthAdjust="spacingAndGlyphs">0.2</text>
<line x1="832.5" y1="1478.3" x2="836.5" y2="1478.3" stroke="#555" stroke-width="1.2" />
<text x="783.70" y="1488.87" font-size="28.45" fill="#000" textLength="44.92" lengthAdjust="spacingAndGlyphs">0.4</text>
<line x1="832.5" y1="1378.0" x2="836.5" y2="1378.0" stroke="#555" stroke-width="1.2" />
<text x="783.70" y="1388.52" font-size="28.45" fill="#000" textLength="44.92" lengthAdjust="spacingAndGlyphs">0.6</text>
<line x1="836.5" y1="1641.0" x2="836.5" y2="1645.0" stroke="#777" stroke-width="1.2" />
<text x="808.25" y="1669.51" font-size="29.30" fill="#000" textLength="56.38" lengthAdjust="spacingAndGlyphs">500</text>
<line x1="961.2" y1="1641.0" x2="961.2" y2="1645.0" stroke="#777" stroke-width="1.2" />
<text x="932.95" y="1669.51" font-size="29.30" fill="#000" textLength="56.38" lengthAdjust="spacingAndGlyphs">550</text>
<line x1="1085.9" y1="1641.0" x2="1085.9" y2="1645.0" stroke="#777" stroke-width="1.2" />
<text x="1057.65" y="1669.51" font-size="29.30" fill="#000" textLength="56.38" lengthAdjust="spacingAndGlyphs">600</text>
<line x1="1210.6" y1="1641.0" x2="1210.6" y2="1645.0" stroke="#777" stroke-width="1.2" />
<text x="1182.35" y="1669.51" font-size="29.30" fill="#000" textLength="56.38" lengthAdjust="spacingAndGlyphs">650</text>
<line x1="1335.3" y1="1641.0" x2="1335.3" y2="1645.0" stroke="#777" stroke-width="1.2" />
<text x="1307.05" y="1669.51" font-size="29.30" fill="#000" textLength="56.38" lengthAdjust="spacingAndGlyphs">700</text>
<line x1="1460.0" y1="1641.0" x2="1460.0" y2="1645.0" stroke="#777" stroke-width="1.2" />
<text x="1431.75" y="1669.51" font-size="29.30" fill="#000" textLength="56.38" lengthAdjust="spacingAndGlyphs">750</text>
<text x="1014.00" y="1700.40" font-size="27.83" fill="#000" textLength="268.55" lengthAdjust="spacingAndGlyphs">Wavelength in nm</text>
<line x1="775.6" y1="1373.5" x2="775.6" y2="1380.5" stroke="#222" stroke-width="1.4" />
<line x1="775.6" y1="1397.2" x2="775.6" y2="1405.6" stroke="#222" stroke-width="1.4" />
<line x1="775.6" y1="1450.3" x2="775.6" y2="1457.3" stroke="#222" stroke-width="1.4" />
<line x1="775.6" y1="1482.4" x2="775.6" y2="1490.8" stroke="#222" stroke-width="1.4" />
<line x1="775.6" y1="1507.5" x2="775.6" y2="1515.9" stroke="#222" stroke-width="1.4" />
<line x1="775.6" y1="1557.8" x2="775.6" y2="1563.3" stroke="#222" stroke-width="1.4" />
<line x1="775.6" y1="1574.5" x2="775.6" y2="1580.1" stroke="#222" stroke-width="1.4" />
<line x1="775.6" y1="1592.8" x2="775.6" y2="1596.8" stroke="#222" stroke-width="1.4" />
<line x1="775.6" y1="1443.3" x2="775.6" y2="1446.1" stroke="#bbb" stroke-width="1.2" />
<line x1="775.6" y1="1541.0" x2="775.6" y2="1543.8" stroke="#bbb" stroke-width="1.2" />
<rect x="131.2" y="1774.3" width="1084.9" height="122.7" rx="6" ry="6" fill="#fff" stroke="#dedede" stroke-width="1.5"/>
<line x1="144.7" y1="1804.3" x2="223.6" y2="1804.3" stroke="#32CD32" stroke-width="4" />
<line x1="144.7" y1="1859.7" x2="223.6" y2="1859.7" stroke="#6495ED" stroke-width="4" />
<line x1="682.0" y1="1804.5" x2="761.8" y2="1804.5" stroke="#B8860B" stroke-width="4" />
<line x1="682.0" y1="1859.8" x2="761.8" y2="1859.8" stroke="#F08080" stroke-width="4" />
<text x="252.12" y="1817.70" font-size="38.41" fill="#000" textLength="74.31" lengthAdjust="spacingAndGlyphs">EAC</text>
<text x="250.56" y="1873.60" font-size="40.87" fill="#000" textLength="134.44" lengthAdjust="spacingAndGlyphs">Stroma</text>
<text x="790.48" y="1818.00" font-size="38.12" fill="#000" textLength="409.90" lengthAdjust="spacingAndGlyphs">Squamous epithelium</text>
<text x="790.25" y="1873.00" font-size="39.13" fill="#000" textLength="224.70" lengthAdjust="spacingAndGlyphs">Background</text>
<rect x="146.4" y="1931.3" width="324.8" height="69.7" fill="none" stroke="#000" stroke-width="3.3" stroke-dasharray="3.4 4.2"/>
<text x="154.50" y="1975.50" font-size="45.22" fill="#000" textLength="276.03" lengthAdjust="spacingAndGlyphs">Feature area</text>
<polygon points="526.1,1934.9 548.8,1958.0 537.2,1958.0 537.2,1987.3 515.0,1987.3 515.0,1958.0 503.4,1958.0" fill="#548235" />
<polygon points="526.1,1941.4 537.7,1953.4 532.6,1953.4 532.6,1982.7 519.6,1982.7 519.6,1953.4 514.5,1953.4" fill="#70AD47" />
<text x="578.41" y="1988.30" font-size="49.42" fill="#000" textLength="205.54" lengthAdjust="spacingAndGlyphs">Feature E</text>
<text x="786.28" y="2000.77" font-size="33.10" fill="#000" textLength="16.89" lengthAdjust="spacingAndGlyphs">9</text>
<polygon points="873.5,1943.5 895.9,1965.9 884.4,1965.9 884.4,1995.8 862.6,1995.8 862.6,1965.9 851.1,1965.9" fill="#2F5597" />
<polygon points="873.5,1950.0 884.8,1961.3 879.8,1961.3 879.8,1991.2 867.2,1991.2 867.2,1961.3 862.2,1961.3" fill="#4472C4" />
<text x="922.70" y="1988.30" font-size="49.42" fill="#000" textLength="206.36" lengthAdjust="spacingAndGlyphs">Feature E</text>
<text x="1130.46" y="2000.77" font-size="33.10" fill="#000" textLength="17.32" lengthAdjust="spacingAndGlyphs">8</text>
</svg></body></html>
